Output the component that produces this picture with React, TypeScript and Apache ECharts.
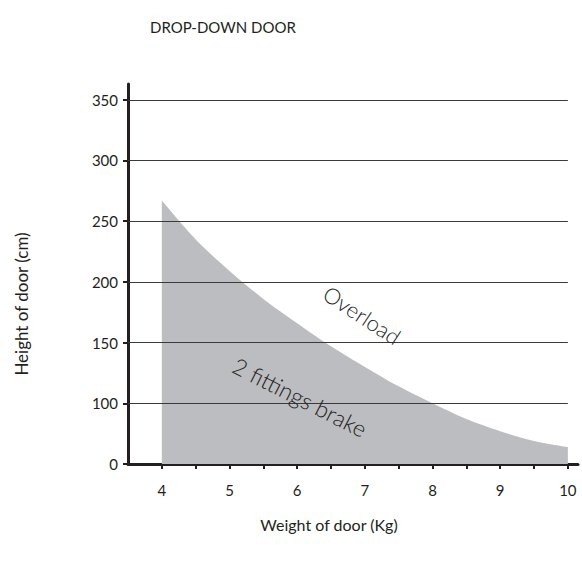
import React, { useEffect, useRef } from "react";
import * as echarts from "echarts";

const weights = [4, 4.5, 5, 5.5, 6, 6.5, 7, 7.5, 8, 8.5, 9, 9.5, 10];
const heightsCm = [267, 235, 209, 186, 166, 147, 130, 114, 100, 74, 54, 38, 28];
const xTickValues = [4, 4.5, 5, 5.5, 6, 6.5, 7, 7.5, 8, 8.5, 9, 9.5, 10];
const xLabelValues = [4, 5, 6, 7, 8, 9, 10];
const yLabelsCm = [0, 100, 150, 200, 250, 300, 350];
const gridCm = [100, 150, 200, 250, 300, 350];

// The y axis is broken: 0 -> 100 occupies the same space as one 50 step.
const toAxis = (cm: number) => (cm >= 100 ? cm - 50 : cm / 2);
const fromAxis = (v: number) => (v <= 0 ? 0 : v >= 50 ? v + 50 : v * 2);

const FONT = "Lato, 'Open Sans', sans-serif";
const TEXT = "#231f20";

export default function App() {
  const ref = useRef<HTMLDivElement>(null);
  useEffect(() => {
    if (!ref.current) return;
    const chart = echarts.init(ref.current, undefined, { renderer: "svg" });
    const xMin = 3.5;
    const xEnd = 10;
    chart.setOption({
      animation: false,
      backgroundColor: "#ffffff",
      textStyle: { fontFamily: FONT },
      grid: { left: 128, right: 4, top: 84, bottom: 101, containLabel: false },
      xAxis: {
        type: "value",
        min: xMin,
        max: 10.15,
        interval: 0.5,
        axisLine: { show: true, onZero: false, lineStyle: { color: TEXT, width: 3 } },
        axisTick: {
          show: true,
          inside: false,
          length: 5,
          lineStyle: { color: TEXT, width: 2 },
          customValues: xTickValues,
        },
        axisLabel: {
          show: true,
          margin: 18,
          fontSize: 15,
          color: TEXT,
          fontFamily: FONT,
          customValues: xLabelValues,
          formatter: (v: number) => String(v),
        },
        splitLine: { show: false },
      },
      yAxis: {
        type: "value",
        min: 0,
        max: 313,
        interval: 50,
        axisLine: { show: true, lineStyle: { color: TEXT, width: 3 } },
        axisTick: {
          show: true,
          inside: false,
          length: 5,
          lineStyle: { color: TEXT, width: 2 },
          customValues: yLabelsCm.map(toAxis),
        },
        axisLabel: {
          show: true,
          margin: 10,
          fontSize: 15,
          color: TEXT,
          fontFamily: FONT,
          customValues: yLabelsCm.map(toAxis),
          formatter: (v: number) => String(Math.round(fromAxis(v))),
        },
        splitLine: { show: false },
      },
      series: [
        {
          type: "line",
          data: weights.map((w, i) => [w, toAxis(heightsCm[i])]),
          smooth: 0.3,
          showSymbol: false,
          symbol: "none",
          lineStyle: { width: 0 },
          areaStyle: { color: "#bcbdc0", opacity: 1 },
          z: 2,
          markLine: {
            silent: true,
            symbol: "none",
            label: { show: false },
            lineStyle: { color: "#3a3a3a", width: 1, type: "solid" },
            data: gridCm.map((c) => [
              { coord: [xMin, toAxis(c)] },
              { coord: [xEnd, toAxis(c)] },
            ]),
          },
        },
      ],
      graphic: [
        {
          type: "text",
          left: 150,
          top: 19,
          z: 100,
          style: {
            text: "DROP-DOWN DOOR",
            fontSize: 15,
            fontFamily: FONT,
            fill: TEXT,
          },
        },
        {
          type: "text",
          x: 329,
          y: 524,
          z: 100,
          style: {
            text: "Weight of door (Kg)",
            fontSize: 16,
            fontFamily: FONT,
            fill: TEXT,
            align: "center",
            verticalAlign: "middle",
          },
        },
        {
          type: "text",
          x: 21,
          y: 304,
          rotation: Math.PI / 2,
          z: 100,
          style: {
            text: "Height of door (cm)",
            fontSize: 17,
            fontFamily: FONT,
            fill: TEXT,
            align: "center",
            verticalAlign: "middle",
          },
        },
        {
          type: "text",
          x: 362,
          y: 315,
          rotation: -0.58,
          z: 100,
          style: {
            text: "Overload",
            fontSize: 22,
            fontFamily: FONT,
            fontWeight: 300,
            fill: TEXT,
            align: "center",
            verticalAlign: "middle",
          },
        },
        {
          type: "text",
          x: 300,
          y: 397,
          rotation: -0.47,
          z: 100,
          style: {
            text: "2 fittings brake",
            fontSize: 23,
            fontFamily: FONT,
            fontWeight: 300,
            fill: TEXT,
            align: "center",
            verticalAlign: "middle",
          },
        },
      ],
    });
    return () => chart.dispose();
  }, []);
  return <div ref={ref} style={{ width: 582, height: 565, position: "absolute", left: 0, top: 0 }} />;
}
